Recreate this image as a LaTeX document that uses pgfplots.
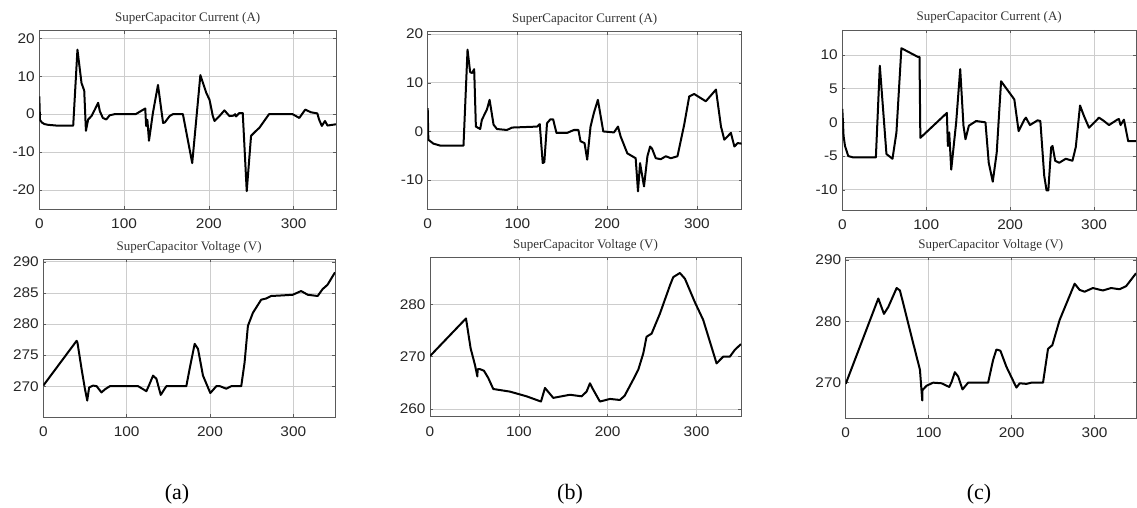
\documentclass[border=0pt]{standalone}
\usepackage{pgfplots}
\pgfplotsset{compat=1.18}
\usepackage{fontspec}
\setmainfont{Liberation Serif}
\newfontfamily\arialf[FakeStretch=1.1]{Liberation Sans}
\definecolor{framegray}{RGB}{90,90,90}
\definecolor{gridgray}{RGB}{205,205,205}
\pgfplotsset{
  myax/.style={
    scale only axis,
    anchor=south west,
    xmin=0, xmax=350,
    xtick={0,100,200,300},
    grid=major,
    major grid style={gridgray, line width=0.6pt},
    axis line style={framegray, line width=0.7pt},
    tick style={framegray, line width=0.5pt},
    tick align=inside,
    major tick length=3pt,
    /pgf/number format/assume math mode=true,
    /pgf/number format/1000 sep={},
    ticklabel style={font=\arialf\fontsize{14}{14}\selectfont, text=black!85},
    xticklabel style={yshift=-6pt},
    yticklabel style={xshift=-1pt},
    title style={font=\fontsize{13}{13}\selectfont, at={(0.5,1)}, anchor=base, yshift=3pt, text=black!80},
    every axis plot post/.append style={black, line width=2pt, line join=round, mark=none},
  },
}
\begin{document}
\begin{tikzpicture}
\path[use as bounding box] (0pt,0pt) rectangle (1137pt,507pt);
% (a) current
\begin{axis}[myax, at={(39.3pt,298pt)}, width=296.7pt, height=178.3pt,
  ymin=-25, ymax=22, ytick={-20,-10,0,10,20},
  title={SuperCapacitor Current (A)}]
\addplot coordinates {(0,4.7) (0.8,-1.5) (3,-2.2) (6,-2.6) (10,-2.8) (20,-3) (40,-3) (45,17) (49.8,8.2) (53,6.2) (55,-4.4) (57.6,-1.4) (61.6,-0.5) (65.5,1.2) (69.4,3) (71.4,0.8) (75,-1) (79,-1.4) (83,-0.3) (89,0) (113.7,0) (125,1.5) (126,-3.1) (127.5,-1.5) (129.4,-7) (134,0.3) (140,7.7) (146,-2.3) (148,-2.2) (153.7,-0.5) (157.6,0) (169.4,0) (180.4,-12.9) (190,10.3) (197,5.6) (200.8,3.8) (204.7,-0.5) (206.7,-1.8) (212.5,-0.5) (218.4,1) (224.3,-0.5) (229,-0.4) (231,0) (232,-0.6) (236,0.3) (240,0.3) (244.7,-20.3) (249.8,-5.7) (255.7,-4.4) (259.6,-3.6) (271,0) (298.8,0) (306.7,-1) (313.7,1.2) (320.4,0.5) (328,0.2) (330,-1.4) (333.3,-3.1) (337,-1.8) (340,-3) (349,-2.7) (350,-2.7)};
\end{axis}
% (a) voltage
\begin{axis}[myax, at={(43.3pt,89.7pt)}, width=291.7pt, height=158pt,
  ymin=265, ymax=290.4, ytick={270,275,280,285,290},
  xticklabel style={yshift=0pt},
  title={SuperCapacitor Voltage (V)}]
\addplot coordinates {(0,270.1) (40,277.3) (41,277) (45.9,272.8) (49.9,269.6) (52.7,267.7) (55,269.8) (59.8,270.1) (64,270) (69.8,269) (74,269.5) (79.8,270) (113.8,270) (123.7,269.2) (127,270.2) (131.7,271.7) (135.7,271.2) (140.9,268.6) (147.6,270) (171.6,270) (175.6,272.8) (181.6,276.8) (185.6,276) (191.6,271.7) (200.4,268.9) (207.6,270) (212,270) (219.5,269.6) (225.5,270) (237.5,270) (241.5,273.8) (245.5,279.7) (251.5,281.8) (261.4,283.9) (267.4,284.1) (273.4,284.5) (287.3,284.6) (299.3,284.7) (309.3,285.3) (317.3,284.7) (329.2,284.5) (335.1,285.6) (341,286.3) (350,288.3)};
\end{axis}
% (b) current
\begin{axis}[myax, at={(427.7pt,297.7pt)}, width=314pt, height=177.6pt,
  ymin=-16, ymax=20.5, ytick={-10,0,10,20},
  title={SuperCapacitor Current (A)}]
\addplot coordinates {(0,4.8) (0.7,-1.7) (6.3,-2.5) (13.8,-2.9) (39.9,-2.9) (44.4,16.8) (47.3,12.2) (49.5,12) (51.8,12.8) (53.7,1) (58.5,0.5) (60.4,2.4) (66,4.5) (69,6.5) (73.4,1.4) (77.2,0.5) (88.3,0.3) (94,0.8) (122,1) (124.9,1.5) (128.2,-6.5) (130,-6.3) (133,1.7) (136.8,2.5) (139.8,2.5) (143.5,-0.3) (155.4,-0.3) (162.9,0.3) (168,0.3) (170.3,-2) (174.8,-2.4) (177.8,-5.8) (181.5,1) (185.2,3.8) (189.7,6.5) (195.7,0) (207.6,-0.2) (212.1,1) (215,-1) (222.5,-4.5) (231.8,-5.5) (234.4,-12.3) (236.7,-6.5) (241.1,-11.3) (244.9,-5.1) (247.9,-3.1) (250,-3.5) (254.2,-5.5) (259.8,-5.7) (265.4,-5.1) (271,-5.5) (278.4,-5.1) (285.9,1.4) (291.5,7.2) (297,7.7) (310,6.2) (321.3,8.6) (326.9,1) (330.6,-1.7) (338,-0.3) (341.8,-3.1) (345.5,-2.4) (350,-2.5)};
\end{axis}
% (b) voltage
\begin{axis}[myax, at={(430pt,90.3pt)}, width=311pt, height=159.4pt,
  ymin=258.5, ymax=289, ytick={260,270,280},
  xticklabel style={yshift=0pt},
  title={SuperCapacitor Voltage (V)}]
\addplot coordinates {(0,270.1) (40.5,277.3) (45.7,271.6) (50.6,268.4) (53.3,266.2) (53.6,267.6) (56.2,267.6) (60.7,267.3) (65.6,265.9) (71.2,263.8) (90,263.3) (108.7,262.4) (124.9,261.4) (129.4,264) (138.7,262.1) (157.5,262.7) (170.6,262.4) (176.2,263.3) (180,264.9) (182.6,264) (191.2,261.4) (202.5,261.9) (213.7,261.7) (219,262.5) (228.7,265.6) (234.4,267.5) (240,270.6) (243.7,273.8) (249.4,274.4) (258.7,278.2) (270,283.6) (273.7,285.2) (281.2,286) (286.9,284.9) (298.1,280.4) (307.5,277) (322.5,268.7) (330,270) (337.5,270) (343.1,271.3) (350,272.4)};
\end{axis}
% (c) current
\begin{axis}[myax, at={(842.3pt,297pt)}, width=293.7pt, height=180pt,
  ymin=-13, ymax=13.7, ytick={-10,-5,0,5,10},
  title={SuperCapacitor Current (A)}]
\addplot coordinates {(0,2) (1.5,-2) (3.2,-3.5) (7.1,-5) (13,-5.2) (40,-5.2) (44.7,8.4) (52.6,-4.7) (59.8,-5.4) (64.5,-1.5) (70.4,11) (90.2,9.7) (92,9.7) (93,-2.3) (124.6,1.4) (125.8,-3.5) (127.4,-1.5) (129.8,-7) (135.7,0) (140.5,7.9) (144.4,-0.5) (146.8,-2.5) (150.8,-0.5) (159.5,0.2) (170.6,0) (174.5,-6) (179.3,-8.8) (184,-4.5) (189.2,6.1) (205,3.4) (210.1,-1.3) (216.9,0.4) (218.8,0.7) (223.6,-0.4) (232.7,0.3) (236,0.2) (240.6,-7.9) (243.4,-10.1) (245.5,-10.1) (248.9,-3.7) (250.5,-3.5) (253.7,-5.7) (258.4,-6) (266.3,-5.4) (274.2,-5.7) (278.2,-3.7) (283.3,2.5) (288.1,0.9) (294,-0.8) (305.9,0.7) (311.8,0.2) (317.8,-0.4) (327.7,0.4) (329.6,0.5) (331.6,-0.4) (335.6,0.4) (340.7,-2.8) (350,-2.8)};
\end{axis}
% (c) voltage
\begin{axis}[myax, at={(845.7pt,88.7pt)}, width=290.3pt, height=161pt,
  ymin=264.2, ymax=290.4, ytick={270,280,290},
  xticklabel style={yshift=0pt},
  title={SuperCapacitor Voltage (V)}]
\addplot coordinates {(0,269.8) (39.3,283.7) (46.1,281.2) (51.3,282.3) (61.4,285.4) (65.4,285) (73.4,280.7) (81.4,276.4) (89.5,272.1) (92.3,267.1) (92.6,268.8) (97.5,269.5) (105.5,270) (115.5,269.9) (124.8,269.3) (127.6,270.1) (131.6,271.7) (135.6,271) (140.8,268.9) (147.6,270) (171.7,270) (177.7,273.7) (181.7,275.4) (186.5,275.2) (193.7,272.6) (205.8,269.2) (209.8,269.9) (217.8,269.8) (223.8,270) (237.9,270) (243.9,275.5) (249.1,276.1) (257.9,280.2) (276,286.1) (282,285.1) (288,284.8) (298,285.4) (310,285) (320,285.4) (330.1,285.2) (338.1,285.7) (350,287.8)};
\end{axis}
\node[font=\fontsize{22}{22}\selectfont] at (177pt,13pt) {(a)};
\node[font=\fontsize{22}{22}\selectfont] at (570pt,13pt) {(b)};
\node[font=\fontsize{22}{22}\selectfont] at (979pt,13pt) {(c)};
\end{tikzpicture}
\end{document}
